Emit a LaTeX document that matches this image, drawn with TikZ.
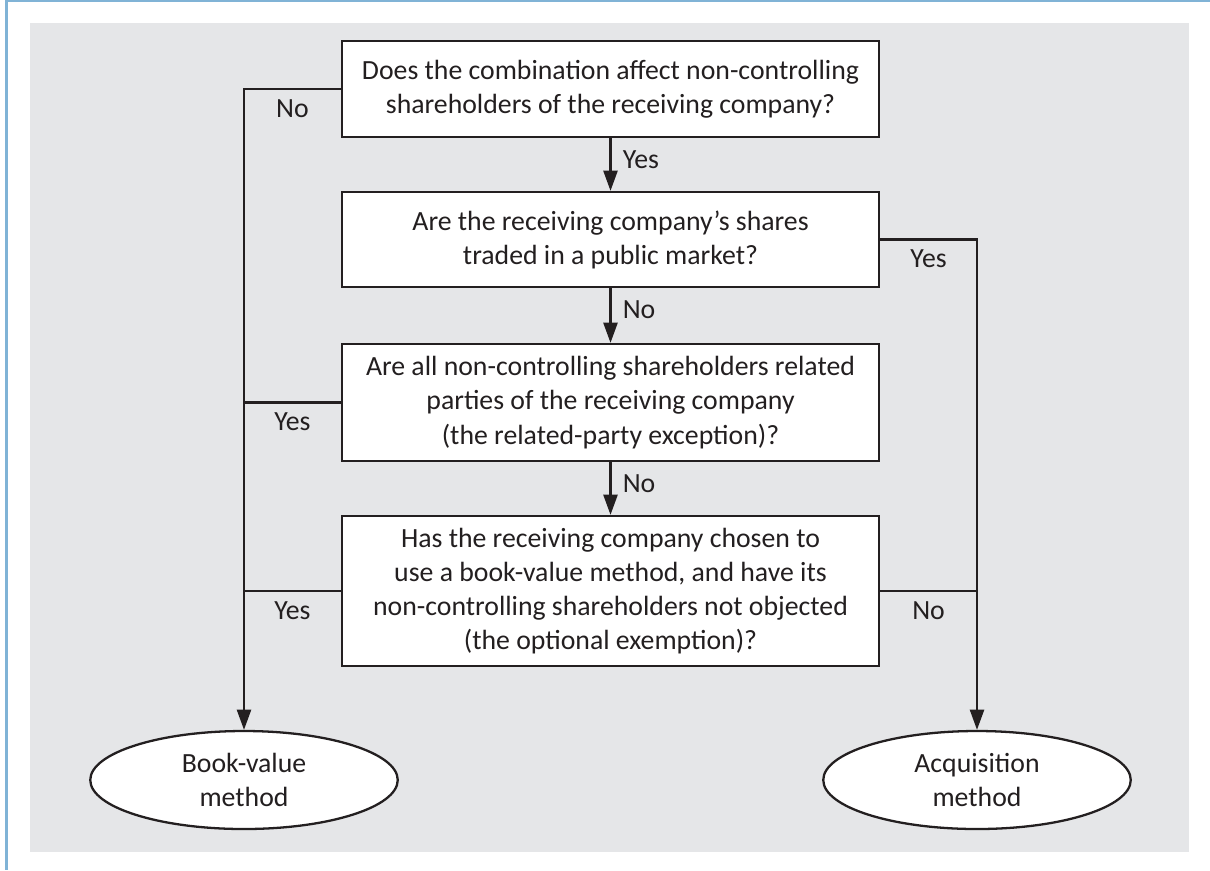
\documentclass[tikz,border=0pt]{standalone}
\usepackage{fontspec}
\setmainfont{Carlito}
\usetikzlibrary{arrows.meta, positioning, shapes.geometric, calc}
\definecolor{ink}{HTML}{231F20}
\definecolor{panelgrey}{HTML}{E5E6E8}
\definecolor{frameblue}{HTML}{80B3D6}

\begin{document}
\begin{tikzpicture}[
  font=\fontsize{15.8pt}{19.4pt}\selectfont,
  question/.style={draw=ink, line width=1.3pt, fill=white, text=ink, minimum width=10.74cm, inner sep=0pt, align=center},
  outcome/.style={draw=ink, line width=1.3pt, fill=white, text=ink, ellipse, minimum width=6.15cm, minimum height=1.96cm, inner sep=0pt, align=center},
  flow/.style={draw=ink, line width=1.3pt},
  flowarrow/.style={flow, -{Triangle[length=11.5pt, width=8pt]}},
  answer/.style={text=ink}
]
  \useasboundingbox (0,0) rectangle (24.2,-17.4);

  % Frame and panel
  \fill[panelgrey] (0.6,-0.46) rectangle (23.78,-17.04);
  \draw[frameblue, line width=1.3pt] (0.1,-0.024) -- (24.2,-0.024);
  \draw[frameblue, line width=1.7pt] (0.13,0) -- (0.13,-17.4);

  % Questions
  \node[question, minimum height=1.92cm] (q1) at (12.21,-1.78) {Does the combination affect non-controlling\\shareholders of the receiving company?};
  \node[question, minimum height=1.9cm] (q2) at (12.21,-4.79) {Are the receiving company’s shares\\traded in a public market?};
  \node[question, minimum height=2.34cm] (q3) at (12.21,-8.05) {Are all non-controlling shareholders related\\parties of the receiving company\\(the related-party exception)?};
  \node[question, minimum height=3cm] (q4) at (12.21,-11.82) {Has the receiving company chosen to\\use a book-value method, and have its\\non-controlling shareholders not objected\\(the optional exemption)?};

  % Outcomes
  \node[outcome] (book) at (4.88,-15.6) {Book-value\\method};
  \node[outcome] (acq) at (19.54,-15.6) {Acquisition\\method};

  % Main line
  \draw[flowarrow] (q1.south) -- node[answer, right=3pt, pos=0.4] {Yes} (q2.north);
  \draw[flowarrow] (q2.south) -- node[answer, right=3pt, pos=0.4] {No} (q3.north);
  \draw[flowarrow] (q3.south) -- node[answer, right=3pt, pos=0.4] {No} (q4.north);

  % Left branch
  \draw[flowarrow] (q1.west) -| node[answer, below=2pt, pos=0.25] {No} (book.north);
  \draw[flow] (q3.west) -- node[answer, below=2pt] {Yes} (q3.west -| book.north);
  \draw[flow] (q4.west) -- node[answer, below=2pt] {Yes} (q4.west -| book.north);

  % Right branch
  \draw[flowarrow] (q2.east) -| node[answer, below=2pt, pos=0.25] {Yes} (acq.north);
  \draw[flow] (q4.east) -- node[answer, below=2pt] {No} (q4.east -| acq.north);
\end{tikzpicture}
\end{document}
